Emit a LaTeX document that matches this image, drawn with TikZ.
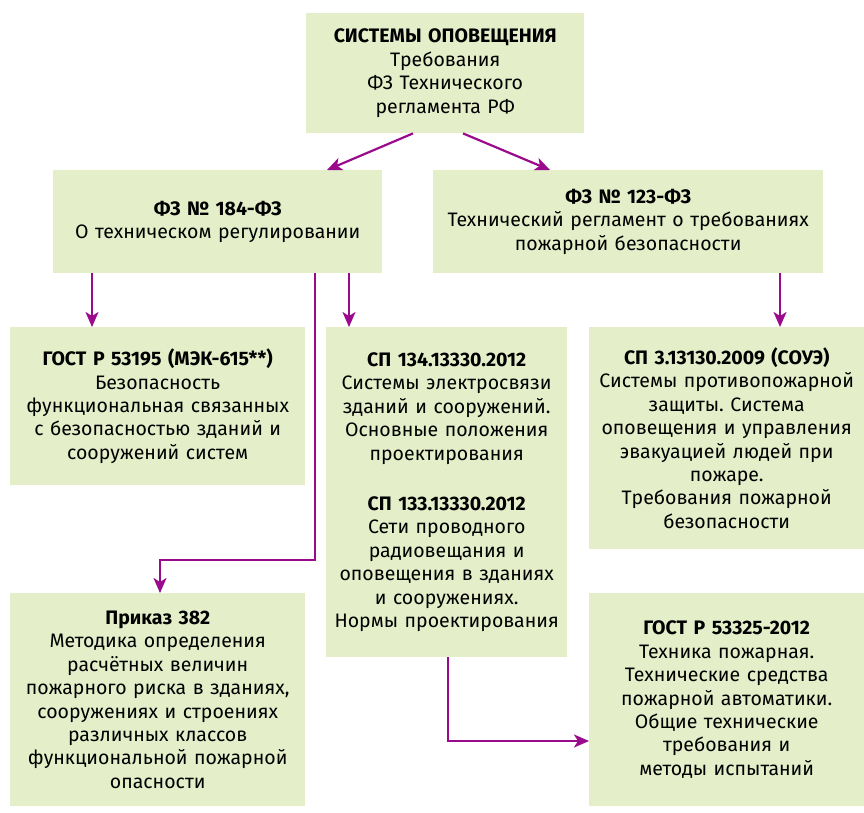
\documentclass[tikz,border=0pt]{standalone}
\usepackage{fontspec}
\setmainfont{Fira Sans}
\usetikzlibrary{arrows.meta}
\definecolor{boxgreen}{HTML}{E4EEC9}
\definecolor{linkpurple}{HTML}{9A0A8C}
\frenchspacing
\tikzset{
  docbox/.style={fill=boxgreen, align=center, anchor=north west, inner xsep=4pt, inner ysep=0pt,
    font=\fontsize{19.5}{23.4}\selectfont},
  link/.style={draw=linkpurple, line width=2.2pt, -{Stealth[length=15pt,width=13pt,inset=4pt]}}
}

\begin{document}
\begin{tikzpicture}[x=1pt,y=-1pt]
        \useasboundingbox (0,0) rectangle (864,813);
        \node[docbox, text width=270pt, minimum width=278pt, minimum height=120pt] (top) at (306,13)
            {\textbf{СИСТЕМЫ ОПОВЕЩЕНИЯ}\\Требования\\ФЗ Технического\\регламента РФ};
        \node[docbox, text width=321pt, minimum width=329pt, minimum height=103pt] (f184) at (53,170)
            {\textbf{ФЗ № 184-ФЗ}\\О техническом регулировании\\[8pt]};
        \node[docbox, text width=382pt, minimum width=390pt, minimum height=103pt] (f123) at (433,170)
            {\textbf{ФЗ № 123-ФЗ}\\Технический регламент о требованиях\\пожарной безопасности};
        \node[docbox, text width=287pt, minimum width=295pt, minimum height=158pt] (gost53195) at (10,327)
            {\textbf{ГОСТ Р 53195 (МЭК-615**)}\\Безопасность\\функциональная связанных\\с безопасностью зданий и\\сооружений систем};
        \node[docbox, text width=233pt, minimum width=241pt, minimum height=330pt] (sp134) at (326,327)
            {\textbf{СП 134.13330.2012}\\Системы электросвязи\\зданий и сооружений.\\Основные положения\\проектирования\\[27pt]
             \textbf{СП 133.13330.2012}\\Сети проводного\\радиовещания и\\оповещения в зданиях\\и сооружениях.\\Нормы проектирования};
        \node[docbox, text width=267pt, minimum width=275pt, minimum height=222pt] (sp3) at (589,327)
            {\textbf{СП 3.13130.2009 (СОУЭ)}\\Системы противопожарной\\защиты. Система\\оповещения и управления\\эвакуацией людей при\\пожаре.\\Требования пожарной\\безопасности};
        \node[docbox, text width=287pt, minimum width=295pt, minimum height=213pt] (prikaz) at (10,593)
            {\textbf{Приказ 382}\\Методика определения\\расчётных величин\\пожарного риска в зданиях,\\сооружениях и строениях\\различных классов\\функциональной пожарной\\опасности};
        \node[docbox, text width=267pt, minimum width=275pt, minimum height=213pt] (gost53325) at (589,593)
            {\textbf{ГОСТ Р 53325-2012}\\Техника пожарная.\\Технические средства\\пожарной автоматики.\\Общие технические\\требования и\\методы испытаний};
        \coordinate (kneeA) at (160,560);
        \draw[link] ([xshift=107pt]top.south west) -- ([xshift=274pt]f184.north west);
        \draw[link] ([xshift=157pt]top.south west) -- ([xshift=117pt]f123.north west);
        \draw[link] ([xshift=39pt]f184.south west) -- ([xshift=82pt]gost53195.north west);
        \draw[link] ([xshift=296pt]f184.south west) -- ([xshift=23pt]sp134.north west);
        \draw[link] ([xshift=262pt]f184.south west) |- (kneeA) -- ([xshift=150pt]prikaz.north west);
        \draw[link] ([xshift=347pt]f123.south west) -- ([xshift=191pt]sp3.north west);
        \draw[link] ([xshift=122pt]sp134.south west) |- ([yshift=-148pt]gost53325.north west);
    \end{tikzpicture}
\end{document}
